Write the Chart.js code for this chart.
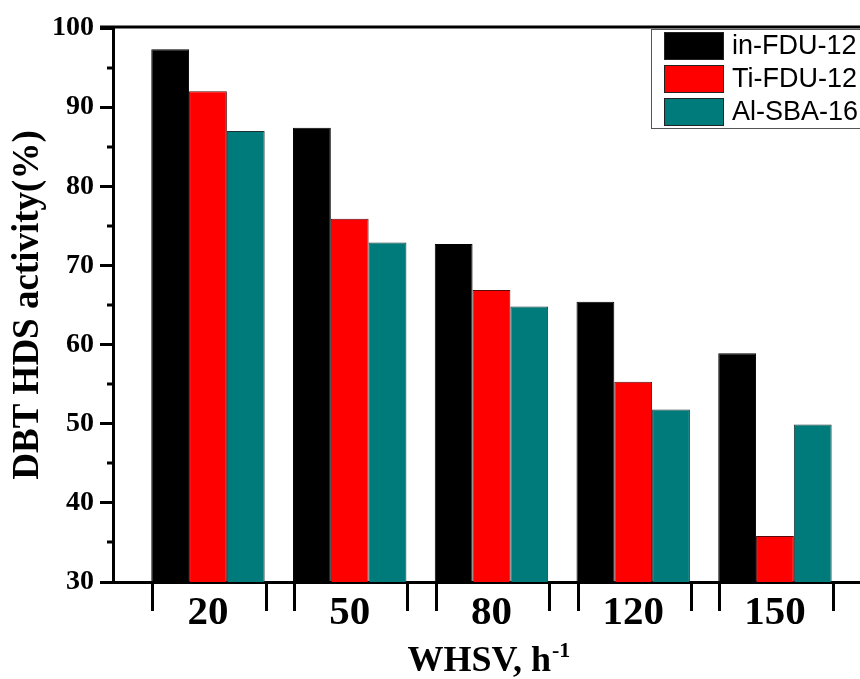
<!DOCTYPE html>
<html>
<head>
<meta charset="utf-8">
<script src="https://cdn.jsdelivr.net/npm/chart.js@4.4.1/dist/chart.umd.min.js"></script>
<style>
  html, body { margin: 0; padding: 0; background: #fff; overflow: hidden; }
  #wrap { width: 860px; height: 679px; }
</style>
</head>
<body>
<div id="wrap"><canvas id="chart" width="860" height="679"></canvas></div>
<script>
// WHSV categories (h-1) and DBT HDS activity (%) per catalyst
var whsv = ['20', '50', '80', '120', '150'];
var seriesNames = ['in-FDU-12', 'Ti-FDU-12', 'Al-SBA-16'];
var inFdu12 = [97.3, 87.4, 72.7, 65.4, 58.9];
var tiFdu12 = [92.0, 75.9, 66.9, 55.3, 35.8];
var alSba16 = [87.0, 72.9, 64.8, 51.8, 49.9];
var yTicks = [30, 40, 50, 60, 70, 80, 90, 100];

var SERIF = '"Liberation Serif", "Times New Roman", serif';
var SANS = '"Liberation Sans", Arial, sans-serif';

function points(values) {
  return values.map(function (v, i) { return { x: i, y: v }; });
}

// axis decorations the library has no option for: top frame, minor y ticks,
// group-edge x ticks, legend box and x title with superscript
var decorations = {
  id: 'decorations',
  afterDraw: function (chart) {
    var ctx = chart.ctx;
    var area = chart.chartArea;
    var xs = chart.scales.x;
    var ys = chart.scales.y;
    ctx.save();
    ctx.strokeStyle = '#000';
    ctx.lineWidth = 3;

    // top frame line
    ctx.beginPath();
    ctx.moveTo(area.left - 13, area.top - 1);
    ctx.lineTo(area.right + 5, area.top - 1);
    ctx.stroke();

    // minor y ticks
    for (var i = 0; i < yTicks.length - 1; i++) {
      var py = Math.round(ys.getPixelForValue(yTicks[i] + 5));
      ctx.beginPath();
      ctx.moveTo(area.left - 6, py);
      ctx.lineTo(area.left, py);
      ctx.stroke();
    }

    // x ticks at both edges of each group
    whsv.forEach(function (_, k) {
      [k - 0.4, k + 0.4].forEach(function (v) {
        var px = Math.round(xs.getPixelForValue(v)) + 1.5;
        ctx.beginPath();
        ctx.moveTo(px, area.bottom);
        ctx.lineTo(px, area.bottom + 29);
        ctx.stroke();
      });
    });

    // legend
    ctx.lineWidth = 1;
    ctx.strokeStyle = '#555';
    ctx.strokeRect(651.5, 29.5, 240, 99);
    ctx.font = '27px ' + SANS;
    ctx.textBaseline = 'middle';
    ctx.textAlign = 'left';
    chart.data.datasets.forEach(function (ds, j) {
      var top = 32 + j * 33;
      ctx.fillStyle = ds.backgroundColor;
      ctx.fillRect(664, top, 60, 28);
      ctx.strokeStyle = '#222';
      ctx.strokeRect(664.5, top + 0.5, 59, 27);
      ctx.fillStyle = '#000';
      ctx.fillText(ds.label, 732, top + 15);
    });

    // x axis title with superscript
    var main = 'WHSV, h';
    var sup = '-1';
    ctx.font = 'bold 36px ' + SERIF;
    var w1 = ctx.measureText(main).width;
    ctx.font = 'bold 22px ' + SERIF;
    var w2 = ctx.measureText(sup).width;
    var cx = xs.getPixelForValue(2) - 3;
    var x0 = cx - (w1 + w2) / 2;
    ctx.fillStyle = '#000';
    ctx.textBaseline = 'alphabetic';
    ctx.font = 'bold 36px ' + SERIF;
    ctx.fillText(main, x0, 671);
    ctx.font = 'bold 22px ' + SERIF;
    ctx.fillText(sup, x0 + w1 + 1, 657);
    ctx.restore();
  }
};

new Chart(document.getElementById('chart'), {
  type: 'bar',
  data: {
    datasets: [
      { label: seriesNames[0], data: points(inFdu12), backgroundColor: '#000000', borderColor: '#000000', borderWidth: 1 },
      { label: seriesNames[1], data: points(tiFdu12), backgroundColor: '#ff0000', borderColor: '#5a0a0a', borderWidth: 1 },
      { label: seriesNames[2], data: points(alSba16), backgroundColor: '#007b7b', borderColor: '#1e3434', borderWidth: 1 }
    ]
  },
  options: {
    responsive: false,
    animation: false,
    layout: { padding: { top: 28, right: 0, bottom: 0, left: 0 } },
    datasets: { bar: { categoryPercentage: 0.8, barPercentage: 1.0 } },
    plugins: { legend: { display: false }, tooltip: { enabled: false } },
    scales: {
      x: {
        type: 'linear',
        offset: false,
        min: -0.67,
        max: 4.6,
        afterBuildTicks: function (s) { s.ticks = whsv.map(function (_, i) { return { value: i }; }); },
        afterFit: function (s) { s.height = 97; },
        ticks: {
          callback: function (v, i) { return whsv[i]; },
          font: { family: SERIF, size: 41, weight: 'bold' },
          color: '#000',
          padding: 7,
          maxRotation: 0,
          autoSkip: false
        },
        grid: { display: false, drawTicks: false, offset: false },
        border: { display: true, width: 3, color: '#000' }
      },
      y: {
        min: 30,
        max: 100,
        afterBuildTicks: function (s) { s.ticks = yTicks.map(function (v) { return { value: v }; }); },
        afterFit: function (s) { s.width = 113; },
        ticks: {
          font: { family: SERIF, size: 28, weight: 'bold' },
          color: '#000',
          padding: 6
        },
        grid: { drawOnChartArea: false, drawTicks: true, tickLength: 13, tickWidth: 3, tickColor: '#000' },
        border: { display: true, width: 3, color: '#000' },
        title: {
          display: true,
          text: 'DBT HDS activity(%)',
          font: { family: SERIF, size: 37, weight: 'bold' },
          color: '#000',
          padding: { top: 6, bottom: 0 }
        }
      }
    }
  },
  plugins: [decorations]
});
</script>
</body>
</html>
